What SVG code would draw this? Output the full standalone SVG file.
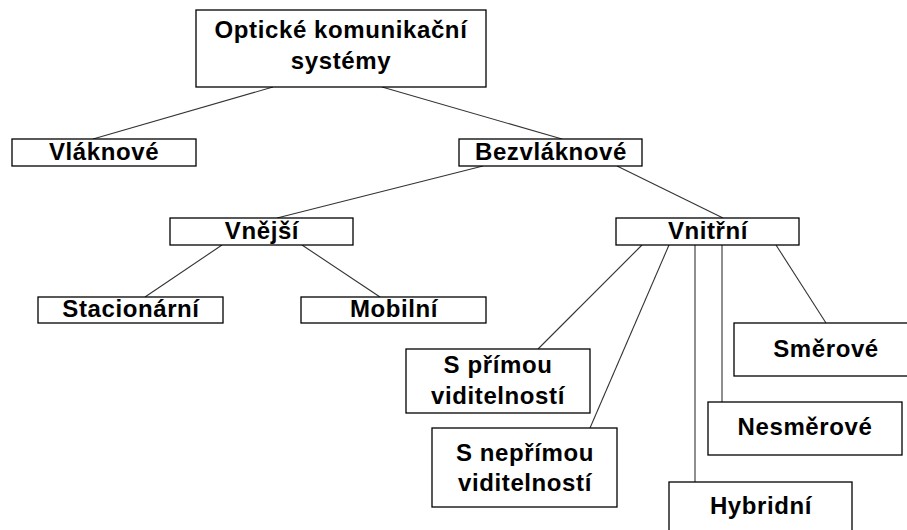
<svg xmlns="http://www.w3.org/2000/svg" width="907" height="530" viewBox="0 0 907 530">
<style>
.box{fill:#fff;stroke:#000;stroke-width:1.3}
.t{font-family:"Liberation Sans",Arial,sans-serif;font-weight:bold;font-size:24px;letter-spacing:0.6px;text-anchor:middle;fill:#000}
.c{stroke:#333;stroke-width:1.1;fill:none}
</style>
<rect width="907" height="530" fill="#fff"/>
<g id="connectors">
<line class="c" x1="273" y1="87" x2="93" y2="139"/>
<line class="c" x1="382" y1="87" x2="562" y2="139"/>
<line class="c" x1="483" y1="166" x2="277" y2="218"/>
<line class="c" x1="617" y1="166" x2="723" y2="218"/>
<line class="c" x1="222" y1="245" x2="145" y2="297"/>
<line class="c" x1="302" y1="245" x2="380" y2="297"/>
<line class="c" x1="642" y1="245" x2="538" y2="349"/>
<line class="c" x1="669" y1="245" x2="590" y2="428"/>
<line class="c" x1="695" y1="245" x2="695" y2="482"/>
<line class="c" x1="722" y1="245" x2="722" y2="402"/>
<line class="c" x1="776" y1="245" x2="826" y2="323"/>
</g>
<g id="optical">
<rect class="box" x="196" y="10" width="290" height="77"/>
<text class="t" x="341" y="38">Optické komunikační</text>
<text class="t" x="341" y="69">systémy</text>
</g>
<g id="vlaknove">
<rect class="box" x="12" y="139" width="184" height="27"/>
<text class="t" x="104" y="160">Vláknové</text>
</g>
<g id="bezvlaknove">
<rect class="box" x="459" y="139" width="183" height="27"/>
<text class="t" x="551" y="160">Bezvláknové</text>
</g>
<g id="vnejsi">
<rect class="box" x="170" y="218" width="183" height="27"/>
<text class="t" x="262" y="239">Vnější</text>
</g>
<g id="vnitrni">
<rect class="box" x="616" y="218" width="183" height="27"/>
<text class="t" x="708" y="239">Vnitřní</text>
</g>
<g id="stacionarni">
<rect class="box" x="38" y="297" width="185" height="26"/>
<text class="t" x="131" y="317">Stacionární</text>
</g>
<g id="mobilni">
<rect class="box" x="301" y="297" width="185" height="26"/>
<text class="t" x="394" y="317">Mobilní</text>
</g>
<g id="primou">
<rect class="box" x="406" y="349" width="184" height="64"/>
<text class="t" x="498" y="373">S přímou</text>
<text class="t" x="498" y="404">viditelností</text>
</g>
<g id="neprimou">
<rect class="box" x="432" y="428" width="185" height="79"/>
<text class="t" x="525" y="461">S nepřímou</text>
<text class="t" x="525" y="491">viditelností</text>
</g>
<g id="smerove">
<rect class="box" x="734" y="323" width="180" height="53"/>
<text class="t" x="826" y="357">Směrové</text>
</g>
<g id="nesmerove">
<rect class="box" x="708" y="402" width="194" height="53"/>
<text class="t" x="805" y="435">Nesměrové</text>
</g>
<g id="hybridni">
<rect class="box" x="669" y="482" width="183" height="60"/>
<text class="t" x="761" y="514">Hybridní</text>
</g>
</svg>
